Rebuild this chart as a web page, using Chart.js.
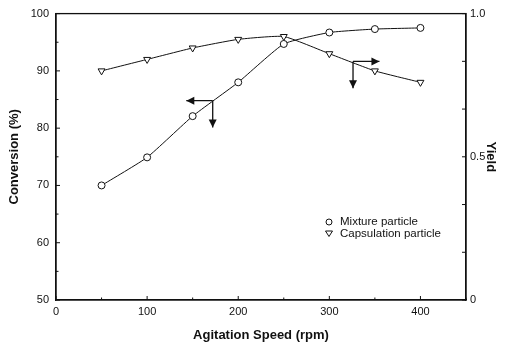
<!DOCTYPE html>
<html>
<head>
<meta charset="utf-8">
<script src="https://cdn.jsdelivr.net/npm/chart.js@4.4.1/dist/chart.umd.min.js"></script>
<style>
  html, body { margin: 0; padding: 0; background: #fff; }
  #wrap { width: 505px; height: 345px; }
</style>
</head>
<body>
<div id="wrap"><canvas id="c" width="505" height="345"></canvas></div>
<script>
// Agitation speed (rpm) at which each run was made
const speeds = [50, 100, 150, 200, 250, 300, 350, 400];
// Conversion (%) for the mixture particle
const mixtureConversion = [70.0, 74.9, 82.1, 88.0, 94.7, 96.7, 97.3, 97.5];
// Yield (fraction) for the capsulation particle
const capsulationYield = [0.80, 0.84, 0.88, 0.91, 0.92, 0.86, 0.80, 0.76];

// Tick values
const speedTicks = [0, 100, 200, 300, 400];
const conversionTicks = [50, 60, 70, 80, 90, 100];
const yieldTicks = [0, 0.5, 1.0];
const yieldTickLabels = ['0', '0.5', '1.0'];

// Arrow annotations: which axis each curve belongs to (corner, horizontal tip, vertical tip)
const conversionArrow = { x: 172, y: 84.8, tipX: 143, tipY: 80.1 };
const yieldArrow = { x: 326, y: 0.833, tipX: 355, tipY: 0.739 };

const INK = '#111';
const tickFont = { family: 'Liberation Sans, Arial, sans-serif', size: 11 };
const titleFont = { family: 'Liberation Sans, Arial, sans-serif', size: 13, weight: 'bold' };

function fixedWidth(w) { return s => { s.width = w; }; }

// Frame, inward tick marks, arrows and in-plot legend
const decorations = {
  id: 'decorations',
  afterDatasetsDraw(chart) {
    const { ctx, chartArea: a, scales } = chart;
    const x = scales.x, y = scales.y, y2 = scales.y2;
    ctx.save();
    ctx.strokeStyle = INK;
    ctx.lineWidth = 1.3;
    ctx.strokeRect(a.left, a.top, a.right - a.left, a.bottom - a.top);

    ctx.lineWidth = 1;
    ctx.beginPath();
    for (let v = 0; v <= 450; v += 50) {
      const px = x.getPixelForValue(v);
      const len = v % 100 === 0 ? 4 : 2.5;
      ctx.moveTo(px, a.bottom); ctx.lineTo(px, a.bottom - len);
    }
    for (let v = 50; v <= 100; v += 5) {
      const py = y.getPixelForValue(v);
      const len = v % 10 === 0 ? 4 : 2.5;
      ctx.moveTo(a.left, py); ctx.lineTo(a.left + len, py);
    }
    for (let k = 0; k <= 6; k++) {
      const py = y2.getPixelForValue(k / 6);
      ctx.moveTo(a.right, py); ctx.lineTo(a.right - 4, py);
    }
    ctx.stroke();

    function arrowHead(tx, ty, dx, dy) {
      const L = 8, W = 4;
      ctx.beginPath();
      ctx.moveTo(tx, ty);
      ctx.lineTo(tx - dx * L - dy * W, ty - dy * L + dx * W);
      ctx.lineTo(tx - dx * L + dy * W, ty - dy * L - dx * W);
      ctx.closePath();
      ctx.fill();
    }
    function drawArrow(ann, ys) {
      const cx = x.getPixelForValue(ann.x), cy = ys.getPixelForValue(ann.y);
      const hx = x.getPixelForValue(ann.tipX), vy = ys.getPixelForValue(ann.tipY);
      ctx.lineWidth = 1.3;
      ctx.fillStyle = INK;
      ctx.beginPath();
      ctx.moveTo(hx, cy); ctx.lineTo(cx, cy);
      ctx.moveTo(cx, cy); ctx.lineTo(cx, vy);
      ctx.stroke();
      arrowHead(hx, cy, Math.sign(hx - cx), 0);
      arrowHead(cx, vy, 0, 1);
    }
    drawArrow(conversionArrow, y);
    drawArrow(yieldArrow, y2);

    // legend
    const lx = 329, ly = 222, gap = 11.5;
    ctx.font = '11.5px "Liberation Sans", Arial, sans-serif';
    ctx.textBaseline = 'middle';
    ctx.textAlign = 'left';
    chart.data.datasets.forEach((ds, i) => {
      const py = ly + i * gap;
      ctx.lineWidth = 1;
      ctx.strokeStyle = INK;
      ctx.fillStyle = '#fff';
      if (ds.pointStyle === 'circle') {
        ctx.beginPath(); ctx.arc(lx, py, 3, 0, Math.PI * 2); ctx.fill(); ctx.stroke();
      } else {
        ctx.beginPath();
        ctx.moveTo(lx - 3.5, py - 2.5); ctx.lineTo(lx + 3.5, py - 2.5); ctx.lineTo(lx, py + 3);
        ctx.closePath(); ctx.fill(); ctx.stroke();
      }
      ctx.fillStyle = INK;
      ctx.fillText(ds.label, lx + 11, py);
    });
    ctx.restore();
  }
};

new Chart(document.getElementById('c'), {
  type: 'line',
  data: {
    datasets: [
      {
        label: 'Mixture particle',
        data: speeds.map((s, i) => ({ x: s, y: mixtureConversion[i] })),
        yAxisID: 'y',
        borderColor: INK, borderWidth: 1,
        pointStyle: 'circle', pointRadius: 3.5,
        pointBackgroundColor: '#fff', pointBorderColor: INK, pointBorderWidth: 1,
        tension: 0.15
      },
      {
        label: 'Capsulation particle',
        data: speeds.map((s, i) => ({ x: s, y: capsulationYield[i] })),
        yAxisID: 'y2',
        borderColor: INK, borderWidth: 1,
        pointStyle: 'triangle', pointRotation: 180, pointRadius: 4,
        pointBackgroundColor: '#fff', pointBorderColor: INK, pointBorderWidth: 1,
        tension: 0.15
      }
    ]
  },
  options: {
    responsive: false,
    animation: false,
    layout: { padding: { top: 13, left: 0, right: 0, bottom: 0 } },
    plugins: { legend: { display: false }, tooltip: { enabled: false } },
    scales: {
      x: {
        type: 'linear', position: 'bottom', min: 0, max: 450,
        afterBuildTicks: s => { s.ticks = speedTicks.map(v => ({ value: v })); },
        afterFit: s => { s.height = 45; },
        grid: { display: false, drawTicks: false },
        border: { display: true, color: INK, width: 1.3 },
        ticks: { color: INK, font: tickFont, padding: 5, maxRotation: 0 },
        title: { display: true, text: 'Agitation Speed (rpm)', color: INK, font: titleFont, padding: { top: 0, bottom: 2 } }
      },
      y: {
        type: 'linear', position: 'left', min: 50, max: 100,
        afterBuildTicks: s => { s.ticks = conversionTicks.map(v => ({ value: v })); },
        afterFit: fixedWidth(56),
        grid: { display: false, drawTicks: false },
        border: { display: true, color: INK, width: 1.3 },
        ticks: { color: INK, font: tickFont, padding: 7 },
        title: { display: true, text: 'Conversion (%)', color: INK, font: titleFont, padding: { top: 7, bottom: 0 } }
      },
      y2: {
        type: 'linear', position: 'right', min: 0, max: 1,
        afterBuildTicks: s => { s.ticks = yieldTicks.map(v => ({ value: v })); },
        afterFit: fixedWidth(39),
        grid: { display: false, drawTicks: false },
        border: { display: true, color: INK, width: 1.3 },
        ticks: {
          color: INK, font: tickFont, padding: 4,
          callback: v => yieldTickLabels[yieldTicks.indexOf(v)] ?? ''
        },
        title: { display: true, text: 'Yield', color: INK, font: titleFont, padding: { top: 7, bottom: 0 } }
      }
    }
  },
  plugins: [decorations]
});
</script>
</body>
</html>
